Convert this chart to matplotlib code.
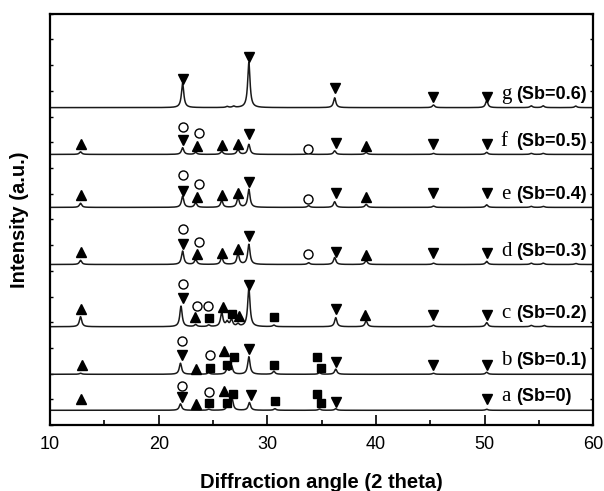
import numpy as np
import matplotlib
matplotlib.use("Agg")
import matplotlib.pyplot as plt
from matplotlib.ticker import MultipleLocator

# sample names, Sb content and vertical offsets of each pattern (a.u.)
LETTERS = ['a', 'b', 'c', 'd', 'e', 'f', 'g']
SB_VALUES = ['0', '0.1', '0.2', '0.3', '0.4', '0.5', '0.6']
OFFSETS = [0.58, 1.98, 3.83, 6.25, 8.47, 10.53, 12.35]

# peaks: (2 theta, height above baseline)
peaks_a = [(22.0, 0.25), (24.6, 0.04), (26.3, 0.12), (26.75, 0.45), (28.35, 0.30),
           (30.7, 0.06), (34.8, 0.05), (36.3, 0.06), (50.2, 0.04)]
peaks_b = [(12.8, 0.04), (22.0, 0.43), (23.4, 0.05), (24.6, 0.06), (26.3, 0.20),
           (26.7, 0.32), (28.3, 0.68), (30.6, 0.12), (34.8, 0.06), (36.3, 0.20),
           (45.3, 0.04), (50.2, 0.08)]
peaks_c = [(12.8, 0.39), (22.05, 0.80), (23.4, 0.08), (24.6, 0.06), (25.8, 0.55),
           (26.3, 0.18), (26.7, 0.27), (27.3, 0.10), (28.3, 1.50), (30.6, 0.06),
           (36.3, 0.35), (39.1, 0.23), (45.3, 0.06), (50.2, 0.16), (54.3, 0.05),
           (55.5, 0.05)]
peaks_d = [(12.8, 0.16), (22.2, 0.52), (23.4, 0.20), (25.8, 0.27), (27.3, 0.42),
           (28.3, 0.78), (33.8, 0.07), (36.2, 0.27), (39.1, 0.16), (45.3, 0.05),
           (50.2, 0.12), (54.3, 0.05), (55.4, 0.05), (58.4, 0.04)]
peaks_e = [(12.8, 0.16), (22.2, 0.43), (23.4, 0.18), (25.8, 0.26), (27.3, 0.37),
           (28.3, 0.70), (33.8, 0.07), (36.2, 0.22), (39.1, 0.12), (45.3, 0.05),
           (50.2, 0.10), (54.3, 0.04), (55.4, 0.04)]
peaks_f = [(12.8, 0.10), (22.2, 0.26), (23.4, 0.08), (25.8, 0.12), (27.3, 0.20),
           (28.3, 0.39), (33.8, 0.06), (36.2, 0.14), (39.1, 0.08), (45.3, 0.04),
           (50.2, 0.08), (54.3, 0.04), (55.4, 0.04)]
peaks_g = [(22.2, 0.95), (26.3, 0.04), (26.9, 0.05), (28.3, 1.75), (36.2, 0.38),
           (45.3, 0.10), (50.2, 0.27), (54.3, 0.07), (55.4, 0.07), (58.4, 0.06)]
PEAKS = [peaks_a, peaks_b, peaks_c, peaks_d, peaks_e, peaks_f, peaks_g]

# phase symbols: (marker, 2 theta, height above baseline)
marks_a = [('^', 12.8, 0.42), ('o', 22.1, 0.94), ('v', 22.1, 0.51), ('^', 23.4, 0.25),
           ('o', 24.6, 0.73), ('s', 24.6, 0.29), ('^', 26.0, 0.75), ('s', 26.3, 0.29),
           ('s', 26.8, 0.64), ('v', 28.5, 0.58), ('s', 30.7, 0.38), ('s', 34.6, 0.64),
           ('s', 34.9, 0.29), ('v', 36.3, 0.34), ('v', 50.2, 0.42)]
marks_b = [('^', 12.9, 0.38), ('o', 22.1, 1.28), ('v', 22.1, 0.74), ('^', 23.4, 0.22),
           ('o', 24.7, 0.74), ('s', 24.7, 0.25), ('^', 26.0, 0.91), ('s', 26.3, 0.38),
           ('s', 26.9, 0.67), ('v', 28.35, 1.0), ('s', 30.6, 0.38), ('s', 34.6, 0.67),
           ('s', 34.9, 0.25), ('v', 36.3, 0.48), ('v', 45.3, 0.35), ('v', 50.2, 0.35)]
marks_c = [('^', 12.8, 0.70), ('o', 22.25, 1.65), ('v', 22.2, 1.10), ('o', 23.5, 0.80),
           ('o', 24.5, 0.80), ('^', 23.35, 0.39), ('s', 24.6, 0.34), ('^', 25.9, 0.77),
           ('s', 26.75, 0.51), ('^', 27.4, 0.41), ('v', 28.3, 1.62), ('s', 30.6, 0.36),
           ('v', 36.3, 0.67), ('^', 39.0, 0.47), ('v', 45.3, 0.45), ('v', 50.2, 0.45)]
marks_d = [('^', 12.8, 0.50), ('o', 22.2, 1.37), ('v', 22.2, 0.80), ('o', 23.7, 0.89),
           ('^', 23.5, 0.41), ('^', 25.85, 0.46), ('^', 27.3, 0.59), ('v', 28.3, 1.11),
           ('o', 33.7, 0.39), ('v', 36.3, 0.50), ('^', 39.1, 0.37), ('v', 45.3, 0.43),
           ('v', 50.2, 0.43)]
marks_e = [('^', 12.8, 0.50), ('o', 22.2, 1.25), ('v', 22.2, 0.65), ('o', 23.7, 0.90),
           ('^', 23.5, 0.41), ('^', 25.85, 0.50), ('^', 27.3, 0.57), ('v', 28.3, 1.00),
           ('o', 33.7, 0.31), ('v', 36.3, 0.57), ('^', 39.1, 0.39), ('v', 45.3, 0.57),
           ('v', 50.2, 0.57)]
marks_f = [('^', 12.8, 0.41), ('o', 22.2, 1.08), ('v', 22.2, 0.56), ('o', 23.7, 0.85),
           ('^', 23.5, 0.34), ('^', 25.85, 0.37), ('^', 27.3, 0.41), ('v', 28.3, 0.80),
           ('o', 33.7, 0.21), ('v', 36.3, 0.43), ('^', 39.1, 0.34), ('v', 45.3, 0.41),
           ('v', 50.2, 0.41)]
marks_g = [('v', 22.2, 1.13), ('v', 28.3, 1.95), ('v', 36.2, 0.76), ('v', 45.3, 0.41),
           ('v', 50.2, 0.41)]
MARKS = [marks_a, marks_b, marks_c, marks_d, marks_e, marks_f, marks_g]

PEAK_WIDTH = 0.13  # half width (deg) of the drawn peak profile


def pattern(theta, peaks):
    '''Builds a pattern from the listed peaks (Lorentzian profile).'''
    y = np.zeros_like(theta)
    for pos, height in peaks:
        y += height / (1 + ((theta - pos) / PEAK_WIDTH) ** 2)
    return y


fig = plt.figure(figsize=(6.04, 4.91), dpi=100)
ax = fig.add_axes([0.083, 0.134, 0.899, 0.838])

theta = np.linspace(10, 60, 5001)
for letter, sb, offset, peaks, marks in zip(LETTERS, SB_VALUES, OFFSETS, PEAKS, MARKS):
    ax.plot(theta, offset + pattern(theta, peaks), color='#1a1a1a', lw=1.1)

    for marker, pos, height in marks:
        if marker == 'o':
            ax.plot(pos, offset + height, marker='o', ms=6.5, mfc='white',
                    mec='black', mew=1.0, ls='none')
        elif marker == 's':
            ax.plot(pos, offset + height, marker='s', ms=5.5, color='black', ls='none')
        else:
            ax.plot(pos, offset + height, marker=marker, ms=7, color='black', ls='none')

    # sample label: serif letter followed by bold composition
    ax.text(51.5, offset + 0.52, letter, family='Liberation Serif', fontsize=15,
            va='center', ha='left')
    ax.text(52.9, offset + 0.52, '(Sb=%s)' % sb, family='Liberation Sans',
            fontweight='bold', fontsize=13, va='center', ha='left')

ax.set_xlim(10, 60)
ax.set_ylim(0, 16)
ax.xaxis.set_major_locator(MultipleLocator(10))
ax.xaxis.set_minor_locator(MultipleLocator(5))
ax.yaxis.set_major_locator(MultipleLocator(1))
ax.set_yticklabels([])
ax.tick_params(axis='x', which='major', direction='in', length=7, width=1.2,
               labelsize=13, pad=8)
ax.tick_params(axis='x', which='minor', direction='in', length=3.5, width=1.2)
ax.tick_params(axis='y', which='major', direction='in', length=2.5, width=1,
               left=True, right=True)
for lab in ax.get_xticklabels():
    lab.set_family('Liberation Sans')
for spine in ax.spines.values():
    spine.set_linewidth(1.6)

ax.set_xlabel('Diffraction angle (2 theta)', family='Liberation Sans',
              fontweight='bold', fontsize=14.5, labelpad=14)
ax.set_ylabel('Intensity (a.u.)', family='Liberation Sans',
              fontweight='bold', fontsize=14.5, labelpad=12)

fig.savefig('out.png', dpi=100)
plt.close(fig)
